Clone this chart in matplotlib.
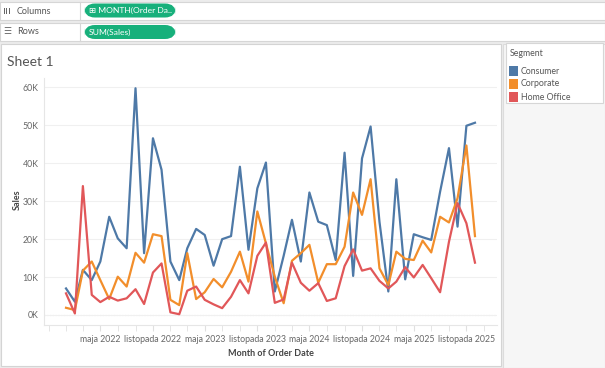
import numpy as np
import pandas as pd
import matplotlib
matplotlib.use('Agg')
import matplotlib.pyplot as plt
import matplotlib.dates as mdates
from matplotlib.patches import Rectangle, FancyBboxPatch
from matplotlib.ticker import FuncFormatter, MultipleLocator

# monthly sales per segment, in thousands (Jan 2022 .. Dec 2025)
months = pd.date_range('2022-01-01', '2025-12-01', freq='MS')

consumer = [7.0, 3.5, 11.9, 9.2, 14.1, 25.9, 20.2, 17.6, 59.8, 16.3,
            46.6, 38.3, 14.1, 9.2, 17.6, 22.7, 21.1, 13.0, 20.0, 20.8,
            39.1, 17.2, 33.4, 40.2, 6.2, 15.6, 25.1, 14.1, 32.3, 24.6,
            23.7, 14.5, 42.8, 10.3, 41.3, 49.7, 24.6, 6.2, 35.8, 9.4,
            21.3, 20.5, 19.8, 32.5, 44.0, 23.3, 49.9, 50.7]
corporate = [1.9, 1.3, 11.7, 14.1, 9.2, 4.2, 10.1, 7.5, 16.4, 13.8,
             21.3, 20.8, 4.0, 2.6, 16.3, 4.2, 6.0, 9.5, 7.3, 11.4,
             16.7, 8.8, 27.3, 18.9, 10.1, 3.1, 14.3, 16.3, 18.5, 8.5,
             13.4, 13.4, 18.0, 32.3, 26.4, 35.8, 12.3, 7.9, 16.7, 14.8,
             14.5, 19.6, 16.5, 25.9, 24.4, 30.8, 44.7, 20.8]
home_office = [5.7, 0.4, 34.0, 5.3, 3.4, 4.8, 3.8, 4.4, 6.8, 2.9,
               11.2, 13.6, 0.7, 0.2, 6.4, 7.5, 4.0, 2.8, 1.8, 4.8,
               9.2, 5.7, 15.6, 19.1, 3.2, 4.1, 13.8, 8.5, 6.4, 8.4,
               3.7, 4.4, 12.9, 17.3, 11.7, 12.3, 9.0, 7.0, 8.8, 12.6,
               9.9, 13.2, 9.7, 6.0, 19.3, 29.5, 24.2, 13.8]

segments = ['Consumer', 'Corporate', 'Home Office']
colors = ['#4e79a7', '#f28e2b', '#e15759']
series = [consumer, corporate, home_office]

# labelled ticks: every 6 months from May 2022
tick_dates = pd.date_range('2022-05-01', '2025-11-01', freq='6MS')
pl_months = ['stycznia', 'lutego', 'marca', 'kwietnia', 'maja', 'czerwca',
             'lipca', 'sierpnia', 'września', 'października', 'listopada', 'grudnia']

W, H = 605, 368
FONT = ['Lato', 'DejaVu Sans']
plt.rcParams['font.family'] = FONT


def fx(x):
    return x / W


def fy(y):
    return 1 - y / H


fig = plt.figure(figsize=(W / 100, H / 100), dpi=100)
fig.patch.set_facecolor('#ececec')


def box(x0, y0, x1, y1, fc, ec='none', lw=0.8):
    fig.patches.append(Rectangle((fx(x0), fy(y1)), (x1 - x0) / W, (y1 - y0) / H,
                                 transform=fig.transFigure, facecolor=fc,
                                 edgecolor=ec, lw=lw, zorder=-5))


# --- shelves ---
for y0, y1, label in [(2, 20, 'Columns'), (23, 41, 'Rows')]:
    box(0, y0, 605, y1, 'white', '#d6d6d6')
    fig.lines.append(plt.Line2D([fx(80), fx(80)], [fy(y0), fy(y1)],
                                transform=fig.transFigure, color='#d6d6d6', lw=0.8))
    fig.text(fx(17), fy((y0 + y1) / 2), label, fontsize=6.5, color='#555555',
             va='center', ha='left')

# columns icon (three bars) and rows icon
for i in range(3):
    box(4 + i * 2.3, 7.5, 5.1 + i * 2.3, 14, '#666666')
fig.text(fx(3.5), fy(32), '☰', fontsize=6.5, color='#666666', va='center',
         ha='left', family=['DejaVu Sans'])

for y0, y1, txt in [(3.5, 17.5, '⊞ MONTH(Order Da..'), (25, 39, 'SUM(Sales)')]:
    fig.patches.append(FancyBboxPatch((fx(84), fy(y1)), 92 / W, (y1 - y0) / H,
                                      boxstyle='round,pad=0,rounding_size=0.018',
                                      transform=fig.transFigure,
                                      facecolor='#17b07b', edgecolor='none',
                                      mutation_aspect=W / H))
    fig.text(fx(89), fy((y0 + y1) / 2), txt, fontsize=6.1, color='white',
             va='center', ha='left', family=FONT)

# --- sheet and side panel ---
box(1, 44, 501, 366, 'white', '#d4d4d4')
box(503, 44, 605, 368, '#f6f6f6', '#dcdcdc')
box(506, 43, 603, 103, 'white', '#d6d6d6')
fig.text(fx(7), fy(62), 'Sheet 1', fontsize=10, color='#555555',
         va='center', ha='left')

# legend
fig.text(fx(510), fy(53), 'Segment', fontsize=6.3, color='#555555',
         va='center', ha='left')
for i, (seg, c) in enumerate(zip(segments, colors)):
    yc = 71 + i * 13
    box(509, yc - 4.5, 518, yc + 4.5, c)
    fig.text(fx(521), fy(yc), seg, fontsize=6.3, color='#555555',
             va='center', ha='left')

# --- chart ---
ax = fig.add_axes([fx(44), fy(325), (497 - 44) / W, (325 - 78) / H])
ax.set_zorder(5)
ax.set_facecolor('white')
for vals, c, seg in zip(series, colors, segments):
    ax.plot(months, np.array(vals) * 1000, color=c, lw=1.6, label=seg)

x0 = mdates.date2num(months[0])
x_last = mdates.date2num(months[-1])
step = (x_last - x0) / (len(months) - 1)
ax.set_xlim(x0 - 2.53 * step, x_last + 2.53 * step)
ax.set_ylim(-2640, 62500)

ax.yaxis.set_major_locator(MultipleLocator(10000))
ax.yaxis.set_major_formatter(FuncFormatter(lambda v, p: f'{int(round(v / 1000))}K'))
ax.grid(axis='y', color='#f0f0f0', lw=0.8)
ax.axhline(0, color='#d8d8d8', lw=0.8, ls=(0, (1, 1.5)), zorder=0.5)

ax.set_xticks(tick_dates)
ax.set_xticklabels([f'{pl_months[d.month - 1]} {d.year}' for d in tick_dates])
ax.xaxis.set_minor_locator(mdates.MonthLocator(bymonth=[1, 3, 5, 7, 9, 11]))

ax.tick_params(axis='y', length=0, pad=4, labelsize=6.3, labelcolor='#666666')
ax.tick_params(axis='x', which='both', length=4, color='#e0e0e0', pad=3,
               labelsize=6.3, labelcolor='#666666')

for s in ['top', 'right']:
    ax.spines[s].set_visible(False)
for s in ['left', 'bottom']:
    ax.spines[s].set_color('#e6e6e6')
    ax.spines[s].set_linewidth(0.8)

ax.set_xlabel('Month of Order Date', fontsize=6.5, fontweight='bold',
              color='#444444', labelpad=4)
fig.text(fx(17), fy(200), 'Sales', rotation=90, fontsize=6.5, fontweight='bold',
         color='#444444', va='center', ha='center')

fig.savefig('out.png', dpi=100)
